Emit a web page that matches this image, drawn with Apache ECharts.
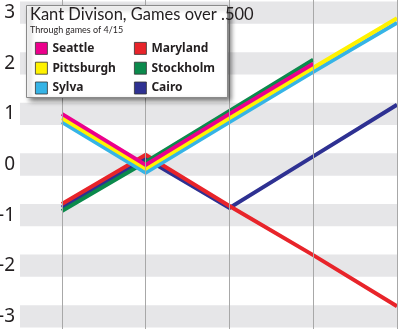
<!DOCTYPE html>
<html>
<head>
<meta charset="utf-8">
<script src="https://cdn.jsdelivr.net/npm/echarts@6/dist/echarts.min.js"></script>
<style>
  html, body { margin: 0; padding: 0; background: #fff; }
  #chart { width: 400px; height: 329px; }
</style>
</head>
<body>
<div id="chart"></div>
<script>
// Checkpoints (game dates) along the x axis
const checkpoints = [0, 1, 2, 3, 4];
// Games over .500 per team at each checkpoint (lines are nudged apart slightly so overlaps stay visible)
const seattle    = [1.00, -0.01, 1.00, 1.99];
const pittsburgh = [0.92, -0.08, 0.92, 1.91, 2.89];
const sylva      = [0.84, -0.16, 0.84, 1.83, 2.80];
const maryland   = [-0.78, 0.19, -0.82, -1.79, -2.80];
const stockholm  = [-0.92, 0.05, 1.06, 2.07];
const cairo      = [-0.85, 0.12, -0.86, 0.16, 1.18];
// Y axis tick labels
const yTicks = [-3, -2, -1, 0, 1, 2, 3];

const FONT = 'Noto Sans';
const TITLE_FONT = 'Lato';

function pairs(vals) { return vals.map((v, i) => [checkpoints[i], v]); }

function teamSeries(name, vals, color, z) {
  return {
    name: name,
    type: 'line',
    data: pairs(vals),
    color: color,
    symbol: 'none',
    z: z,
    lineStyle: { width: 4, color: color, cap: 'butt', join: 'miter' },
    emphasis: { disabled: true },
    animation: false
  };
}

const chart = echarts.init(document.getElementById('chart'), null, { renderer: 'canvas' });

const bandHalf = 0.22;
const legendText = { fontFamily: FONT, fontSize: 12, fontWeight: 'bold', color: '#231f20', lineHeight: 12 };
const option = {
  animation: false,
  grid: { left: 20, right: 3, top: 0, bottom: 0, containLabel: false, outerBoundsMode: 'none' },
  xAxis: {
    type: 'value', min: -0.5, max: 4,
    axisLine: { show: false }, axisTick: { show: false },
    axisLabel: { show: false }, splitLine: { show: false }
  },
  yAxis: {
    type: 'value', min: -3.25, max: 3.25, interval: 0.25,
    axisLine: { show: true, lineStyle: { color: '#9a9a9a', width: 1 } },
    axisTick: { show: false },
    splitLine: { show: false },
    axisLabel: {
      margin: 5,
      fontFamily: FONT, fontSize: 19, color: '#231f20',
      showMinLabel: true, showMaxLabel: true,
      formatter: function (v) {
        const r = Math.round(v);
        return (Math.abs(v - r) < 1e-6 && yTicks.indexOf(r) >= 0) ? String(r) : '';
      }
    }
  },
  title: {
    text: 'Kant Divison, Games over .500',
    subtext: 'Through games of 4/15',
    left: 30, top: 6, itemGap: 3, padding: 0, z: 20,
    textStyle: { fontFamily: TITLE_FONT, fontSize: 16.5, fontWeight: 'normal', color: '#231f20' },
    subtextStyle: { fontFamily: TITLE_FONT, fontSize: 9, color: '#231f20' }
  },
  legend: [
    {
      data: ['Seattle', 'Pittsburgh', 'Sylva'],
      orient: 'vertical', left: 35, top: 42, itemGap: 7, padding: 0,
      itemWidth: 12, itemHeight: 12, icon: 'rect', z: 20,
      selectedMode: false,
      itemStyle: { borderColor: '#333', borderWidth: 0.8 },
      textStyle: legendText
    },
    {
      data: ['Maryland', 'Stockholm', 'Cairo'],
      orient: 'vertical', left: 134, top: 42, itemGap: 7, padding: 0,
      itemWidth: 12, itemHeight: 12, icon: 'rect', z: 20,
      selectedMode: false,
      itemStyle: { borderColor: '#333', borderWidth: 0.8 },
      textStyle: legendText
    }
  ],
  graphic: [
    {
      type: 'rect', z: 15,
      shape: { x: 26.5, y: 5.5, width: 201, height: 92 },
      style: {
        fill: '#fff', stroke: '#8a8a8a', lineWidth: 1,
        shadowBlur: 5, shadowOffsetX: 3, shadowOffsetY: 3, shadowColor: 'rgba(0,0,0,0.55)'
      }
    }
  ],
  series: [
    {
      name: 'background', type: 'line', data: [], z: 1, silent: true,
      markArea: {
        silent: true,
        itemStyle: { color: '#e6e6e8' },
        data: yTicks.map(v => [{ yAxis: v - bandHalf }, { yAxis: Math.min(v + bandHalf, 3.25) }])
      },
      markLine: {
        silent: true, symbol: 'none',
        label: { show: false },
        lineStyle: { color: '#a8a8a8', width: 1, type: 'solid' },
        data: checkpoints.map(x => ({ xAxis: x }))
      }
    },
    teamSeries('Cairo', cairo, '#2e3192', 3),
    teamSeries('Maryland', maryland, '#e8242a', 3),
    teamSeries('Stockholm', stockholm, '#0b8a4c', 3),
    teamSeries('Sylva', sylva, '#36b4e6', 4),
    teamSeries('Pittsburgh', pittsburgh, '#fff200', 4),
    teamSeries('Seattle', seattle, '#ec008c', 4)
  ]
};

chart.setOption(option);
</script>
</body>
</html>
